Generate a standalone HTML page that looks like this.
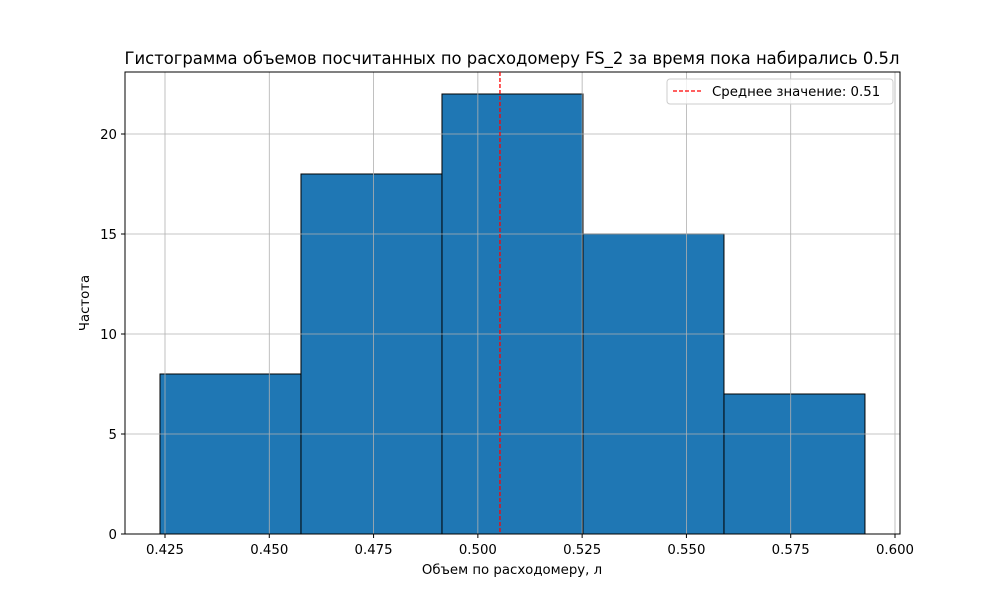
<!DOCTYPE html>
<html><head><meta charset="utf-8"><style>
body{margin:0;background:#fff}
svg text{font-family:"DejaVu Sans","Liberation Sans",sans-serif;fill:#000}
</style></head><body>
<svg id="c" width="1000" height="600" xmlns="http://www.w3.org/2000/svg">
<rect width="1000" height="600" fill="#fff"/>
<text x="512" y="64" font-size="16.4" text-anchor="middle">Гистограмма объемов посчитанных по расходомеру FS_2 за время пока набирались 0.5л</text>
<g id="bars"></g><g id="grid"></g><g id="ticks"></g>
<rect x="125" y="72" width="775" height="462" fill="none" stroke="#000" stroke-width="1"/>
<text x="512" y="574" font-size="13.3" text-anchor="middle">Объем по расходомеру, л</text>
<text transform="translate(89,303) rotate(-90)" font-size="13.3" text-anchor="middle">Частота</text>
<g>
<rect x="667" y="79" width="226" height="25" rx="3" fill="#fff" fill-opacity="0.8" stroke="#ccc"/>
<line x1="673" y1="91" x2="701" y2="91" stroke="red" stroke-dasharray="4,2" stroke-width="1.3"/>
<text x="712" y="96" font-size="13.3">Среднее значение: 0.51</text>
</g>
</svg>
<script>
const binEdges=[0.4238,0.4576,0.4914,0.5252,0.5590,0.5928];
const counts=[8,18,22,15,7];
const meanValue=0.5053;
const xTicks=[0.425,0.450,0.475,0.500,0.525,0.550,0.575,0.600];
const yTicks=[0,5,10,15,20];
const NS="http://www.w3.org/2000/svg";
const X=v=>165+(v-0.425)*4171.4;
const Y=v=>534-v*20;
function mk(t,a,p){const e=document.createElementNS(NS,t);for(const k in a)e.setAttribute(k,a[k]);p.appendChild(e);return e;}
const bars=document.getElementById('bars'),grid=document.getElementById('grid'),ticks=document.getElementById('ticks'),svg=document.getElementById('c');
counts.forEach((c,i)=>{const x0=X(binEdges[i]),x1=X(binEdges[i+1]);
const r=mk('rect',{x:x0,y:Y(c),width:x1-x0,height:Y(0)-Y(c),fill:'#1f77b4',stroke:'#000','stroke-width':1},bars);

});
xTicks.forEach(t=>{const x=X(t);
const g=mk('line',{x1:x,x2:x,y1:72,y2:534,stroke:'#b0b0b0','stroke-width':0.8},grid);


mk('line',{x1:x,x2:x,y1:534,y2:538,stroke:'#000'},ticks);
const tx=mk('text',{x:x,y:554,'font-size':13.3,'text-anchor':'middle'},ticks);tx.textContent=t.toFixed(3);

});
yTicks.forEach(t=>{const y=Y(t);
const g=mk('line',{x1:125,x2:900,y1:y,y2:y,stroke:'#b0b0b0','stroke-width':0.8},grid);


mk('line',{x1:121,x2:125,y1:y,y2:y,stroke:'#000'},ticks);
const tx=mk('text',{x:117,y:y+5,'font-size':13.3,'text-anchor':'end'},ticks);tx.textContent=t;

});
const m=mk('line',{x1:X(meanValue),x2:X(meanValue),y1:72,y2:534,stroke:'red','stroke-width':1.3,'stroke-dasharray':'4,2'},svg);


</script>
</body></html>
